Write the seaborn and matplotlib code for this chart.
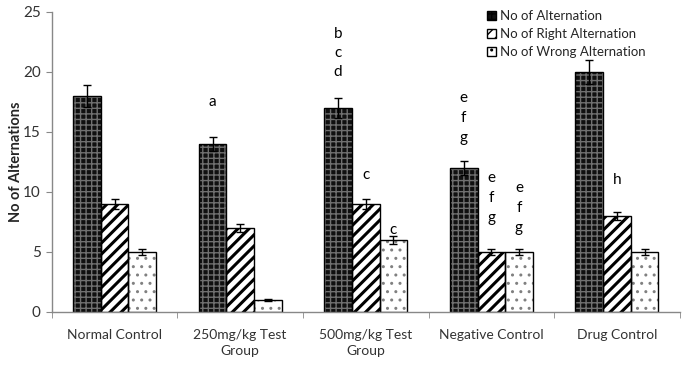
import matplotlib
matplotlib.use("Agg")
import matplotlib.pyplot as plt
import seaborn as sns
import pandas as pd
from matplotlib.patches import Rectangle

categories = ["Normal Control", "250mg/kg Test\nGroup", "500mg/kg Test\nGroup",
              "Negative Control", "Drug Control"]
series = ["No of Alternation", "No of Right Alternation", "No of Wrong Alternation"]
alternation = [18, 14, 17, 12, 20]
right_alt = [9, 7, 9, 5, 8]
wrong_alt = [5, 1, 6, 5, 5]
alternation_err = [0.9, 0.6, 0.8, 0.6, 1.0]
right_err = [0.4, 0.35, 0.4, 0.25, 0.35]
wrong_err = [0.25, 0.1, 0.3, 0.25, 0.25]

# significance letters: (category index, series index, y position, letter)
letters = [
    (1, 0, 17.5, "a"),
    (2, 0, 23.2, "b"), (2, 0, 21.6, "c"), (2, 0, 20.0, "d"),
    (2, 1, 11.4, "c"), (2, 2, 6.8, "c"),
    (3, 0, 17.8, "e"), (3, 0, 16.2, "f"), (3, 0, 14.5, "g"),
    (3, 1, 11.2, "e"), (3, 1, 9.5, "f"), (3, 1, 7.8, "g"),
    (3, 2, 10.3, "e"), (3, 2, 8.7, "f"), (3, 2, 7.0, "g"),
    (4, 1, 11.0, "h"),
]

sns.set_style("white")
plt.rcParams["font.family"] = ["Lato", "DejaVu Sans"]
plt.rcParams["hatch.linewidth"] = 1.0

rows = []
for s, vals, errs in zip(series, [alternation, right_alt, wrong_alt],
                         [alternation_err, right_err, wrong_err]):
    for c, v, e in zip(categories, vals, errs):
        rows.append({"Group": c, "Series": s, "Value": v, "Err": e})
df = pd.DataFrame(rows)

fig = plt.figure(figsize=(7.0, 3.74), dpi=100)
ax = fig.add_axes([0.074, 0.166, 0.897, 0.802])

palette = {series[0]: "#101010", series[1]: "white", series[2]: "white"}
sns.barplot(data=df, x="Group", y="Value", hue="Series", order=categories,
            hue_order=series, palette=palette, width=0.66, gap=0,
            errorbar=None, ax=ax, saturation=1, edgecolor="black", linewidth=1.0)

hatches = ["+++", "///", ".."]
hatch_colors = ["#707070", "black", "#808080"]
hatch_lws = [1.0, 2.2, 1.0]


def style_hatch(p, si):
    p.set_hatch(hatches[si])
    p.set_edgecolor(hatch_colors[si])
    if hasattr(p, "set_hatch_linewidth"):
        p.set_hatch_linewidth(hatch_lws[si])
    p.set_linewidth(0)


bar_patches = {}
for si, container in enumerate(ax.containers):
    for ci, p in enumerate(container.patches):
        bar_patches[(ci, si)] = p
        style_hatch(p, si)
        outline = Rectangle(p.get_xy(), p.get_width(), p.get_height(),
                            fill=False, edgecolor="black", linewidth=1.0,
                            zorder=p.get_zorder() + 0.1)
        ax.add_patch(outline)

errs_all = [alternation_err, right_err, wrong_err]
vals_all = [alternation, right_alt, wrong_alt]
for si in range(3):
    xs = [bar_patches[(ci, si)].get_x() + bar_patches[(ci, si)].get_width() / 2 for ci in range(5)]
    ax.errorbar(xs, vals_all[si], yerr=errs_all[si], fmt="none", ecolor="black",
                elinewidth=1.0, capsize=3, capthick=1.0, zorder=5)

for ci, si, y, t in letters:
    p = bar_patches[(ci, si)]
    ax.text(p.get_x() + p.get_width() / 2, y, t, ha="center", va="center",
            fontsize=11, color="black")

ax.set_ylim(0, 25)
ax.set_xlim(-0.5, 4.5)
ax.set_yticks([0, 5, 10, 15, 20, 25])
ax.set_ylabel("No of Alternations", fontsize=10.5, fontweight="bold", labelpad=0)
ax.set_xlabel("")
ax.tick_params(axis="y", labelsize=11, colors="#333333", length=4, color="#888888",
               direction="out", left=True, pad=4)
ax.tick_params(axis="x", labelsize=10, colors="#333333", length=0, pad=12)
ax.set_xticks(range(5))
ax.set_xticklabels(categories, linespacing=1.45)
ax.set_xticks([i + 0.5 for i in range(-1, 5)], minor=True)
ax.tick_params(axis="x", which="minor", length=4, color="#888888", direction="out", bottom=True)

for sp in ["top", "right"]:
    ax.spines[sp].set_visible(False)
for sp in ["left", "bottom"]:
    ax.spines[sp].set_color("#888888")
    ax.spines[sp].set_linewidth(1.0)

handles, labels = ax.get_legend_handles_labels()
leg = ax.legend(handles, labels, loc="upper right", bbox_to_anchor=(0.965, 1.045),
                frameon=False, fontsize=9.5, handlelength=0.7, handleheight=0.7,
                handletextpad=0.3, labelspacing=0.45)
for si, h in enumerate(leg.legend_handles):
    h.set_hatch(hatches[si])
    h.set_edgecolor("black")
    h.set_linewidth(1.0)

fig.savefig("out.png", dpi=100)
